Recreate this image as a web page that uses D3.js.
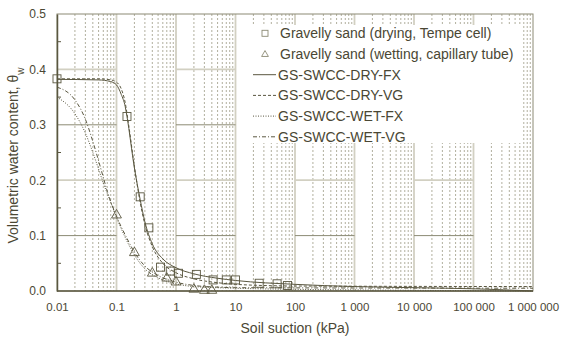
<!DOCTYPE html>
<html>
<head>
<meta charset="utf-8">
<script src="https://cdn.jsdelivr.net/npm/d3@7"></script>
<style>
  body { margin: 0; background: #ffffff; }
  #chart { width: 564px; height: 341px; }
  text { font-family: "Liberation Sans", Arial, sans-serif; }
</style>
</head>
<body>
<div id="chart"></div>
<script>
// measured data (suction kPa, volumetric water content)
const dryingSuction = [0.01, 0.15, 0.25, 0.35, 0.55, 0.8, 1.1, 2.2, 4.2, 7, 10, 25, 50, 75];
const dryingTheta = [0.383, 0.315, 0.170, 0.114, 0.043, 0.036, 0.032, 0.030, 0.020, 0.020, 0.020, 0.014, 0.013, 0.010];
const wettingSuction = [0.1, 0.2, 0.4, 0.7, 1.0, 2.0, 3.0, 4.0];
const wettingTheta = [0.137, 0.069, 0.032, 0.023, 0.016, 0.003, 0.001, 0.001];

// fitted curves
const dryFxSuction = [0.01, 0.05, 0.08, 0.1, 0.12, 0.14, 0.15, 0.2, 0.25, 0.3, 0.4, 0.6, 1, 2, 5, 10, 100, 1000, 10000, 100000, 1000000];
const dryFxTheta = [0.382, 0.381, 0.378, 0.372, 0.355, 0.333, 0.315, 0.222, 0.165, 0.125, 0.085, 0.058, 0.042, 0.031, 0.023, 0.019, 0.012, 0.008, 0.006, 0.004, 0.0];
const dryVgSuction = [0.01, 0.05, 0.08, 0.1, 0.12, 0.14, 0.16, 0.2, 0.25, 0.3, 0.4, 0.6, 1, 2, 5, 10, 100, 1000000];
const dryVgTheta = [0.383, 0.383, 0.381, 0.377, 0.365, 0.34, 0.30, 0.225, 0.16, 0.12, 0.08, 0.05, 0.033, 0.022, 0.015, 0.012, 0.009, 0.008];
const wetFxSuction = [0.01, 0.02, 0.03, 0.04, 0.05, 0.06, 0.08, 0.1, 0.15, 0.2, 0.3, 0.5, 1, 2, 10, 100, 1000, 1000000];
const wetFxTheta = [0.350, 0.32, 0.285, 0.25, 0.22, 0.195, 0.16, 0.133, 0.09, 0.065, 0.04, 0.024, 0.013, 0.008, 0.005, 0.003, 0.002, 0.0];
const wetVgSuction = [0.01, 0.02, 0.03, 0.04, 0.05, 0.06, 0.07, 0.1, 0.15, 0.2, 0.3, 0.5, 1, 2, 5, 10, 1000000];
const wetVgTheta = [0.368, 0.345, 0.31, 0.27, 0.235, 0.205, 0.18, 0.135, 0.095, 0.07, 0.045, 0.028, 0.016, 0.010, 0.007, 0.006, 0.005];

const xTickValues = [0.01, 0.1, 1, 10, 100, 1000, 10000, 100000, 1000000];
const xTickLabels = ['0.01', '0.1', '1', '10', '100', '1 000', '10 000', '100 000', '1 000 000'];
const yTickValues = [0, 0.1, 0.2, 0.3, 0.4, 0.5];

const legendItems = [
  { text: 'Gravelly sand (drying, Tempe cell)', symbol: 'square' },
  { text: 'Gravelly sand (wetting, capillary tube)', symbol: 'triangle' },
  { text: 'GS-SWCC-DRY-FX', dash: null },
  { text: 'GS-SWCC-DRY-VG', dash: '3,2' },
  { text: 'GS-SWCC-WET-FX', dash: '1,1.5' },
  { text: 'GS-SWCC-WET-VG', dash: '4,2,1,2' }
];

const textCol = '#4a4734';
const lineCol = '#5a5740';
const gridLight = '#d2d0c2';
const gridDot = '#9d9a85';

const W = 564, H = 341;
const margin = { top: 14, right: 31, bottom: 50, left: 57 };
const svg = d3.select('#chart').append('svg').attr('width', W).attr('height', H);

const x = d3.scaleLog().domain([0.01, 1000000]).range([margin.left, W - margin.right]);
const y = d3.scaleLinear().domain([0, 0.5]).range([H - margin.bottom, margin.top]);

const grid = svg.append('g');

// minor vertical dotted lines
for (let d = 0; d < xTickValues.length - 1; d++) {
  for (let k = 2; k <= 9; k++) {
    const v = xTickValues[d] * k;
    grid.append('line')
      .attr('x1', x(v)).attr('x2', x(v))
      .attr('y1', y(0.5)).attr('y2', y(0))
      .attr('stroke', gridDot).attr('stroke-width', 0.8)
      .attr('stroke-dasharray', '2,2');
  }
}
// decade lines
xTickValues.slice(1, -1).forEach(v => {
  grid.append('line')
    .attr('x1', x(v)).attr('x2', x(v))
    .attr('y1', y(0.5)).attr('y2', y(0))
    .attr('stroke', gridLight).attr('stroke-width', 1.8);
});
// horizontal lines, drawn only in alternate decades
[0.1, 0.2, 0.3, 0.4].forEach((v, i) => {
  for (let d = 0; d < xTickValues.length - 1; d += 2) {
    grid.append('line')
      .attr('x1', x(xTickValues[d])).attr('x2', x(xTickValues[d + 1]))
      .attr('y1', y(v)).attr('y2', y(v))
      .attr('stroke', i % 2 === 0 ? '#8c8a74' : gridLight)
      .attr('stroke-width', i % 2 === 0 ? 1 : 1.8);
  }
});

// frame
svg.append('rect')
  .attr('x', margin.left).attr('y', margin.top)
  .attr('width', x(1000000) - margin.left).attr('height', y(0) - margin.top)
  .attr('fill', 'none').attr('stroke', '#8c8a74').attr('stroke-width', 1);

// legend background hides grid
const legend = svg.append('g');
legend.append('rect')
  .attr('x', 240).attr('y', 25).attr('width', 283).attr('height', 118)
  .attr('fill', '#ffffff');

// axes
const xAxis = svg.append('g')
  .attr('transform', `translate(0,${y(0)})`)
  .call(d3.axisBottom(x).tickValues(xTickValues)
    .tickFormat((d, i) => xTickLabels[i]).tickSize(0).tickPadding(12));
const yAxis = svg.append('g')
  .attr('transform', `translate(${margin.left},0)`)
  .call(d3.axisLeft(y).tickValues(yTickValues).tickFormat(d3.format('.1f')).tickSize(0).tickPadding(11));
[xAxis, yAxis].forEach(a => {
  a.select('.domain').attr('stroke', lineCol).attr('stroke-width', 1.5);
  a.selectAll('text').attr('fill', textCol);
});
xAxis.selectAll('text').style('font-size', '11.5px');
yAxis.selectAll('text').style('font-size', '12px');
xAxis.select('.domain').attr('d', `M${x(0.01)},0H${x(1000000)}`);

// minor y ticks inward
[0.05, 0.15, 0.25, 0.35, 0.45].forEach(v => {
  svg.append('line')
    .attr('x1', margin.left).attr('x2', margin.left + 4)
    .attr('y1', y(v)).attr('y2', y(v))
    .attr('stroke', lineCol).attr('stroke-width', 1);
});

// axis titles
svg.append('text')
  .attr('x', x(100)).attr('y', 333)
  .attr('text-anchor', 'middle')
  .style('font-size', '14px').attr('fill', textCol)
  .text('Soil suction (kPa)');
const yTitle = svg.append('text')
  .attr('transform', `translate(18,${(margin.top + y(0)) / 2 + 3}) rotate(-90)`)
  .attr('text-anchor', 'middle')
  .style('font-size', '14px').attr('fill', textCol);
yTitle.append('tspan').text('Volumetric water content, \u03B8');
yTitle.append('tspan').attr('baseline-shift', 'sub').style('font-size', '10px').text('w');

// curves
const line = d3.line()
  .x(d => x(d[0]))
  .y(d => y(d[1]))
  .curve(d3.curveMonotoneX);
const curves = [
  { s: dryFxSuction, t: dryFxTheta, dash: null },
  { s: dryVgSuction, t: dryVgTheta, dash: '3,2' },
  { s: wetFxSuction, t: wetFxTheta, dash: '1,1.5' },
  { s: wetVgSuction, t: wetVgTheta, dash: '4,2,1,2' }
];
const plot = svg.append('g');
curves.forEach(c => {
  plot.append('path')
    .datum(c.s.map((v, i) => [v, c.t[i]]))
    .attr('d', line)
    .attr('fill', 'none')
    .attr('stroke', lineCol)
    .attr('stroke-width', 1)
    .attr('stroke-dasharray', c.dash);
});

// markers
const sq = 8;
plot.selectAll('.sq')
  .data(dryingSuction.map((v, i) => [v, dryingTheta[i]]))
  .enter().append('rect')
  .attr('x', d => x(d[0]) - sq / 2)
  .attr('y', d => y(d[1]) - sq / 2)
  .attr('width', sq).attr('height', sq)
  .attr('fill', 'none').attr('stroke', lineCol).attr('stroke-width', 0.9);
const tri = d3.symbol().type(d3.symbolTriangle).size(42);
plot.selectAll('.tri')
  .data(wettingSuction.map((v, i) => [v, wettingTheta[i]]))
  .enter().append('path')
  .attr('transform', d => `translate(${x(d[0])},${y(d[1])})`)
  .attr('d', tri)
  .attr('fill', 'none').attr('stroke', lineCol).attr('stroke-width', 0.9);

// legend
legendItems.forEach((item, i) => {
  const cy = 33.3 + 20.7 * i;
  if (item.symbol === 'square') {
    legend.append('rect')
      .attr('x', 262).attr('y', cy - 3).attr('width', 6).attr('height', 6)
      .attr('fill', 'none').attr('stroke', '#8c8a74').attr('stroke-width', 0.9);
  } else if (item.symbol === 'triangle') {
    legend.append('path')
      .attr('transform', `translate(265,${cy + 0.5})`)
      .attr('d', d3.symbol().type(d3.symbolTriangle).size(20))
      .attr('fill', 'none').attr('stroke', '#8c8a74').attr('stroke-width', 0.9);
  } else {
    legend.append('line')
      .attr('x1', 253).attr('x2', 276)
      .attr('y1', cy).attr('y2', cy)
      .attr('stroke', lineCol).attr('stroke-width', 1)
      .attr('stroke-dasharray', item.dash);
  }
  legend.append('text')
    .attr('x', item.symbol ? 280 : 278)
    .attr('y', cy)
    .attr('dominant-baseline', 'central')
    .style('font-size', '14px').attr('fill', textCol)
    .text(item.text);
});
</script>
</body>
</html>
